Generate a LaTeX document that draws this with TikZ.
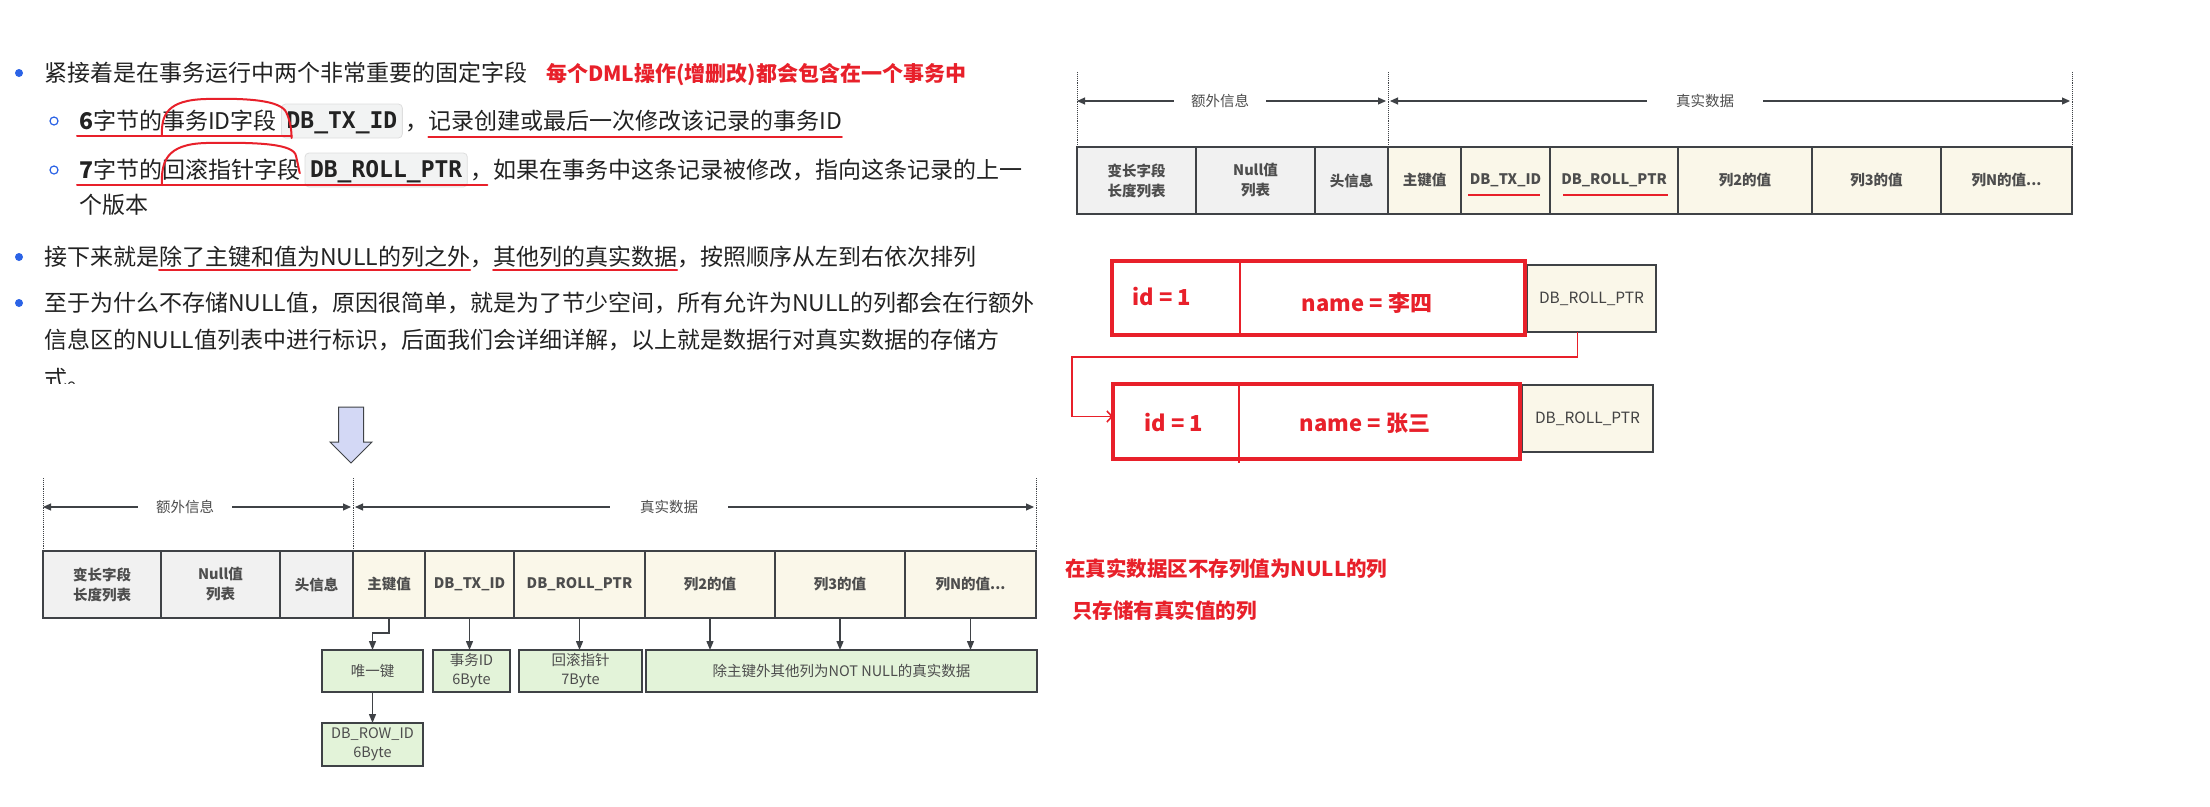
\documentclass[tikz,border=0pt]{standalone}
\usepackage{fontspec}
\setmainfont{Noto Sans CJK SC}
\newfontfamily\codefont{DejaVu Sans Mono}
\usepackage{xcolor}
\usetikzlibrary{arrows.meta, positioning, calc}
\definecolor{textdark}{HTML}{222222}
\definecolor{bulletblue}{HTML}{2B63E6}
\definecolor{markred}{HTML}{E8202A}
\definecolor{linegray}{HTML}{3F4246}
\definecolor{labelgray}{HTML}{4D4D4D}
\definecolor{cellgray}{HTML}{F1F1F1}
\definecolor{cellcream}{HTML}{FAF7E9}
\definecolor{cellgreen}{HTML}{E3F3D9}
\definecolor{codebg}{HTML}{F2F3F3}
\definecolor{codeline}{HTML}{DEDEDE}
\definecolor{arrowfill}{HTML}{D3D8F5}

\begin{document}
\begin{tikzpicture}[x=1pt, y=-1pt,
  txt/.style={anchor=west, inner sep=0pt, outer sep=0pt, text=textdark,
              text height=20pt, text depth=4pt,
              font=\fontsize{23}{28}\selectfont},
  redbold/.style={text=markred, font=\fontsize{21}{26}\selectfont\bfseries},
  code/.style={inner xsep=5pt, inner ysep=0pt, outer sep=0pt, minimum height=34pt,
               rounded corners=4pt, fill=codebg, draw=codeline, line width=0.8pt,
               text=textdark, text height=17pt, text depth=3pt,
               font=\codefont\bfseries\fontsize{23}{28}\selectfont},
  bulletdot/.style={circle, fill=bulletblue, inner sep=0pt, minimum size=8pt},
  subbullet/.style={circle, draw=bulletblue, line width=1.2pt, inner sep=0pt, minimum size=8pt},
  hdr/.style={draw=linegray, line width=1.3pt, fill=cellgray, text=labelgray,
              inner sep=0pt, outer sep=0pt, align=center, minimum height=67pt,
              font=\fontsize{14.5}{20}\selectfont\bfseries},
  datcell/.style={hdr, fill=cellcream},
  ptrcell/.style={datcell, anchor=north west, text=textdark!85,
                  font=\fontsize{15.5}{19}\selectfont},
  note/.style={draw=linegray, line width=1.3pt, fill=cellgreen, text=labelgray,
               inner sep=0pt, outer sep=0pt, align=center, minimum height=42pt,
               font=\fontsize{14.5}{19}\selectfont},
  dim/.style={inner ysep=0pt, text=labelgray, font=\fontsize{14.5}{18}\selectfont},
  dimarr/.style={-{Triangle[length=8pt,width=7pt]}, draw=linegray, line width=1.1pt},
  dotline/.style={densely dotted, draw=linegray, line width=0.9pt},
  conn/.style={-{Triangle[length=9pt,width=7pt]}, draw=linegray, line width=1.3pt},
  redpen/.style={draw=markred, line width=2pt, line cap=round},
  redbox/.style={draw=markred, line width=4.5pt, inner sep=0pt, outer sep=0pt},
  redtxt/.style={text=markred, font=\fontsize{20.5}{24}\selectfont\bfseries},
  rowtxt/.style={text=markred, font=\fontsize{22}{26}\selectfont\bfseries},
  redarr/.style={-{Straight Barb[length=5pt,width=11pt]}, draw=markred, line width=1.6pt},
]
  \fill[white] (0,0) rectangle (2210,806);

  % text block
  \node[bulletdot] (u1) at (19,73) {};
  \node[txt] (l1) at (44,73) {紧接着是在事务运行中两个非常重要的固定字段};
  \node[txt, redbold, right=19pt of l1] (l1r) {每个DML操作(增删改)都会包含在一个事务中};

  \node[subbullet] (u2) at (54,121) {};
  \node[txt] (l2a) at (79,121) {\textbf{6}字节的};
  \node[txt, right=0pt of l2a] (l2b) {事务ID字段};
  \node[code, right=5pt of l2b] (l2c) {DB\_TX\_ID};
  \node[txt, right=3pt of l2c] (l2d) {，};
  \node[txt, right=0pt of l2d] (l2e) {记录创建或最后一次修改该记录的事务ID};

  \node[subbullet] (u3) at (54,170) {};
  \node[txt] (l3a) at (79,170) {\textbf{7}字节的};
  \node[txt, right=0pt of l3a] (l3b) {回滚指针字段};
  \node[code, right=5pt of l3b] (l3c) {DB\_ROLL\_PTR};
  \node[txt, right=3pt of l3c] (l3d) {，如果在事务中这条记录被修改，指向这条记录的上一};
  \node[txt] (l4) at (79,205) {个版本};

  \node[bulletdot] (u5) at (19,257) {};
  \node[txt] (l5a) at (44,257) {接下来就是};
  \node[txt, right=0pt of l5a] (l5b) {除了主键和值为NULL的列之外};
  \node[txt, right=0pt of l5b] (l5c) {，};
  \node[txt, right=0pt of l5c] (l5d) {其他列的真实数据};
  \node[txt, right=0pt of l5d] (l5e) {，按照顺序从左到右依次排列};

  \node[bulletdot] (u6) at (19,303) {};
  \node[txt] (l6) at (44,303) {至于为什么不存储NULL值，原因很简单，就是为了节少空间，所有允许为NULL的列都会在行额外};
  \node[txt] (l7) at (44,340) {信息区的NULL值列表中进行标识，后面我们会详细详解，以上就是数据行对真实数据的存储方};
  \begin{scope}
    \clip (0,355) rectangle (1060,383);
    \node[txt] (l8) at (44,379) {式。};
  \end{scope}

  % red marks on the text
  \draw[redpen] ($(l2a.south west)+(-2,3)$) -- ($(l2b.south east)+(15,3)$);
  \draw[redpen] ($(l2e.south west)+(0,4)$) -- ($(l2e.south east)+(0,4)$);
  \draw[redpen] ($(l3a.south west)+(-2,3)$) -- ($(l3c.south east)+(20,-2)$);
  \draw[redpen] ($(l5b.south west)+(0,1)$) -- ($(l5b.south east)+(0,1)$);
  \draw[redpen] ($(l5d.south west)+(0,1)$) -- ($(l5d.south east)+(0,1)$);
  \draw[redpen] ($(l2b.south west)+(0,3)$)
    .. controls ($(l2b.north west)+(-1,6)$) and ($(l2b.north west)+(5,-9)$) .. ($(l2b.north west)+(44,-10)$)
    .. controls ($(l2b.north east)+(-30,-11)$) and ($(l2b.north east)+(5,-9)$) .. ($(l2b.north east)+(10,4)$)
    .. controls ($(l2b.north east)+(14,13)$) and ($(l2b.south east)+(15,-2)$) .. ($(l2b.south east)+(15,5)$);
  \draw[redpen] ($(l3b.south west)+(0,3)$)
    .. controls ($(l3b.north west)+(-1,4)$) and ($(l3b.north west)+(4,-14)$) .. ($(l3b.north west)+(44,-15)$)
    .. controls ($(l3b.north east)+(-40,-16)$) and ($(l3b.north east)+(-6,-14)$) .. ($(l3b.north east)+(-4,-2)$)
    .. controls ($(l3b.north east)+(-2,6)$) and ($(l3b.south east)+(0,-6)$) .. ($(l3b.south east)+(0,-9)$);

  % big down arrow
  \draw[fill=arrowfill, draw=linegray, line width=1pt, line join=miter]
    (338.5,407) -- (363.5,407) -- (363.5,442) -- (372,442) -- (351,463)
    -- (330,442) -- (338.5,442) -- cycle;

  % record row, lower left
  \node[hdr, anchor=north west, minimum width=118pt] (c1) at (43,551) {变长字段\\长度列表};
  \node[hdr, minimum width=119pt, right=0pt of c1] (c2) {Null值\\列表};
  \node[hdr, minimum width=73pt, right=0pt of c2] (c3) {头信息};
  \node[datcell, minimum width=72pt, right=0pt of c3] (c4) {主键值};
  \node[datcell, minimum width=89pt, right=0pt of c4] (c5) {DB\_TX\_ID};
  \node[datcell, minimum width=131pt, right=0pt of c5] (c6) {DB\_ROLL\_PTR};
  \node[datcell, minimum width=130pt, right=0pt of c6] (c7) {列2的值};
  \node[datcell, minimum width=130pt, right=0pt of c7] (c8) {列3的值};
  \node[datcell, minimum width=131pt, right=0pt of c8] (c9) {列N的值...};

  \coordinate (d1) at (43,478);
  \coordinate (d2) at (353,478);
  \coordinate (d3) at (1036,478);
  \draw[dotline] (d1) -- (c1.north west);
  \draw[dotline] (d2) -- (c4.north west);
  \draw[dotline] (d3) -- (c9.north east);
  \node[dim, inner xsep=18pt] (e1) at (185,507) {额外信息};
  \node[dim, inner xsep=30pt] (e2) at (669,507) {真实数据};
  \draw[dimarr] (e1.west) -- (e1 -| c1.north west);
  \draw[dimarr] (e1.east) -- ($(e1 -| c4.north west)+(-2,0)$);
  \draw[dimarr] (e2.west) -- ($(e2 -| c4.north west)+(2,0)$);
  \draw[dimarr] (e2.east) -- ($(e2 -| c9.north east)+(-2,0)$);

  \node[note, anchor=north west, minimum width=101pt] (n1) at (322,650) {唯一键};
  \node[note, minimum width=77pt, right=10pt of n1] (n2) {事务ID\\6Byte};
  \node[note, minimum width=123pt, right=9pt of n2] (n3) {回滚指针\\7Byte};
  \node[note, minimum width=391pt, right=4pt of n3] (n4) {除主键外其他列为NOT NULL的真实数据};
  \node[note, minimum width=101pt, minimum height=43pt, below=31pt of n1] (n5) {DB\_ROW\_ID\\6Byte};

  \draw[conn] (c4.south) -- ++(0,15) -| (n1.north);
  \draw[conn] (c5.south) -- (c5.south |- n2.north);
  \draw[conn] (c6.south) -- (c6.south |- n3.north);
  \draw[conn] (c7.south) -- (c7.south |- n4.north);
  \draw[conn] (c8.south) -- (c8.south |- n4.north);
  \draw[conn] (c9.south) -- (c9.south |- n4.north);
  \draw[conn] (n1) -- (n5);

  \node[txt, redtxt] (m1) at (1065,568) {在真实数据区不存列值为NULL的列};
  \node[txt, redtxt] (m2) at (1072,610) {只存储有真实值的列};

  % record row, upper right
  \node[hdr, anchor=north west, minimum width=119pt] (r1) at (1077,147) {变长字段\\长度列表};
  \node[hdr, minimum width=119pt, right=0pt of r1] (r2) {Null值\\列表};
  \node[hdr, minimum width=73pt, right=0pt of r2] (r3) {头信息};
  \node[datcell, minimum width=73pt, right=0pt of r3] (r4) {主键值};
  \node[datcell, minimum width=89pt, right=0pt of r4] (r5) {DB\_TX\_ID};
  \node[datcell, minimum width=128pt, right=0pt of r5] (r6) {DB\_ROLL\_PTR};
  \node[datcell, minimum width=134pt, right=0pt of r6] (r7) {列2的值};
  \node[datcell, minimum width=129pt, right=0pt of r7] (r8) {列3的值};
  \node[datcell, minimum width=131pt, right=0pt of r8] (r9) {列N的值...};

  \coordinate (d4) at (1077,72);
  \coordinate (d5) at (1388,72);
  \coordinate (d6) at (2072,72);
  \draw[dotline] (d4) -- (r1.north west);
  \draw[dotline] (d5) -- (r4.north west);
  \draw[dotline] (d6) -- (r9.north east);
  \node[dim, inner xsep=17pt] (e3) at (1220,101) {额外信息};
  \node[dim, inner xsep=29pt] (e4) at (1705,101) {真实数据};
  \draw[dimarr] (e3.west) -- (e3 -| r1.north west);
  \draw[dimarr] (e3.east) -- ($(e3 -| r4.north west)+(-2,0)$);
  \draw[dimarr] (e4.west) -- ($(e4 -| r4.north west)+(2,0)$);
  \draw[dimarr] (e4.east) -- ($(e4 -| r9.north east)+(-2,0)$);
  \draw[markred, line width=1.8pt] ($(r5.south west)+(7,-19)$) -- ($(r5.south east)+(-10,-19)$);
  \draw[markred, line width=1.8pt] ($(r6.south west)+(13,-19)$) -- ($(r6.south east)+(-10,-19)$);

  % two versions of the row
  \node[ptrcell, minimum width=129pt] (p1) at (1527,265) {DB\_ROLL\_PTR};
  \node[ptrcell, minimum width=131pt] (p2) at (1522,385) {DB\_ROLL\_PTR};
  \node[redbox, anchor=north west, minimum width=413pt, minimum height=74pt] (b1) at (1112,261) {};
  \node[redbox, anchor=north west, minimum width=407pt, minimum height=75pt] (b2) at (1113,384) {};
  \draw[markred, line width=2pt] ($(b1.north west)+(128,0)$) -- ($(b1.south west)+(128,0)$);
  \draw[markred, line width=2pt] ($(b2.north west)+(126,0)$) -- ($(b2.south west)+(126,4)$);
  \node[rowtxt] (id1) at (1162,297) {id = 1};
  \node[rowtxt] (nm1) at (1367,303) {name = 李四};
  \node[rowtxt] (id2) at (1174,423) {id = 1};
  \node[rowtxt] (nm2) at (1365,423) {name = 张三};

  \coordinate (turn) at (1072,357);
  \draw[redarr] ([xshift=-14pt]p1.south) |- (turn) |- ([yshift=5pt]b2.west);
\end{tikzpicture}
\end{document}
